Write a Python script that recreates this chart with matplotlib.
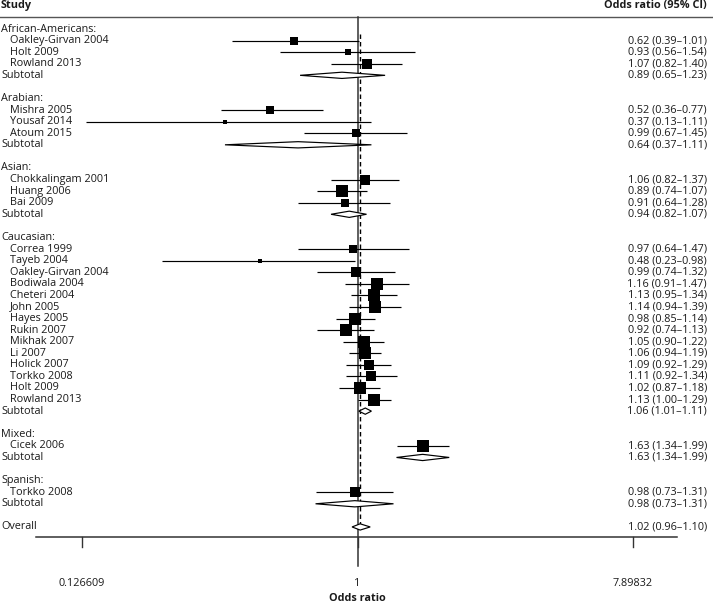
import numpy as np
import matplotlib
matplotlib.use("Agg")
import matplotlib.pyplot as plt
from matplotlib.patches import Polygon
import matplotlib.transforms as mtransforms

plt.rcParams['font.family'] = ['Open Sans', 'DejaVu Sans']

# ---------------- data ----------------
group_names = ["African-Americans", "Arabian", "Asian", "Caucasian", "Mixed", "Spanish"]

study_names = [
    "Oakley-Girvan 2004", "Holt 2009", "Rowland 2013",
    "Mishra 2005", "Yousaf 2014", "Atoum 2015",
    "Chokkalingam 2001", "Huang 2006", "Bai 2009",
    "Correa 1999", "Tayeb 2004", "Oakley-Girvan 2004", "Bodiwala 2004", "Cheteri 2004",
    "John 2005", "Hayes 2005", "Rukin 2007", "Mikhak 2007", "Li 2007", "Holick 2007",
    "Torkko 2008", "Holt 2009", "Rowland 2013",
    "Cicek 2006",
    "Torkko 2008",
]
study_group = [0, 0, 0, 1, 1, 1, 2, 2, 2] + [3] * 14 + [4, 5]
study_or = [0.62, 0.93, 1.07, 0.52, 0.37, 0.99, 1.06, 0.89, 0.91,
            0.97, 0.48, 0.99, 1.16, 1.13, 1.14, 0.98, 0.92, 1.05, 1.06, 1.09, 1.11, 1.02, 1.13,
            1.63, 0.98]
study_lo = [0.39, 0.56, 0.82, 0.36, 0.13, 0.67, 0.82, 0.74, 0.64,
            0.64, 0.23, 0.74, 0.91, 0.95, 0.94, 0.85, 0.74, 0.90, 0.94, 0.92, 0.92, 0.87, 1.00,
            1.34, 0.73]
study_hi = [1.01, 1.54, 1.40, 0.77, 1.11, 1.45, 1.37, 1.07, 1.28,
            1.47, 0.98, 1.32, 1.47, 1.34, 1.39, 1.14, 1.13, 1.22, 1.19, 1.29, 1.34, 1.18, 1.29,
            1.99, 1.31]
# relative study weights
study_weight = [4.1, 3.0, 6.8, 5.3, 1.3, 6.0, 6.8, 10.1, 5.3,
                5.3, 1.3, 6.8, 10.1, 10.1, 10.1, 12.0, 10.1, 12.0, 10.1, 8.3, 8.3, 10.1, 12.0,
                10.1, 6.8]

sub_or = [0.89, 0.64, 0.94, 1.06, 1.63, 0.98]
sub_lo = [0.65, 0.37, 0.82, 1.01, 1.34, 0.73]
sub_hi = [1.23, 1.11, 1.07, 1.11, 1.99, 1.31]

overall_or, overall_lo, overall_hi = 1.02, 0.96, 1.10

tick_values = [0.126609, 1.0, 7.89832]
tick_labels = ["0.126609", "1", "7.89832"]

# ---------------- layout ----------------
W, H = 713, 604
fig = plt.figure(figsize=(W / 100, H / 100), dpi=100)
ax = fig.add_axes([0, 0, 1, 1])
ax.set_xscale('log')
px_center, px_per_ln = 357.5, 133.3
row0_px, row_px = 29.0, 11.58
ax.set_xlim(np.exp(-px_center / px_per_ln), np.exp((W - px_center) / px_per_ln))
ax.set_ylim((H - row0_px) / row_px, -row0_px / row_px)
ax.axis('off')

def px2row(py):
    return (py - row0_px) / row_px

def fx(px):
    return px / W

trans = mtransforms.blended_transform_factory(fig.transFigure, ax.transData)

FS = 7.8
TXT = '#1a1a1a'

# header
ax.text(fx(1), px2row(5.5), "Study", transform=trans, fontsize=FS, fontweight='bold',
        ha='left', va='center', color=TXT)
ax.text(fx(707), px2row(5.5), "Odds ratio (95% CI)", transform=trans, fontsize=FS,
        fontweight='bold', ha='right', va='center', color=TXT)
ax.plot([0, 1], [px2row(17), px2row(17)], transform=trans, color='#555555', lw=1.0,
        clip_on=False)

def fmt(o, l, h):
    return f"{o:.2f} ({l:.2f}\u2013{h:.2f})"

row = 0
ms_scale = 2.55  # marker size per sqrt(weight)
for g, gname in enumerate(group_names):
    ax.text(fx(1), row, gname + ":", transform=trans, fontsize=FS, ha='left', va='center',
            color=TXT)
    row += 1
    for i in [k for k, sg in enumerate(study_group) if sg == g]:
        ax.text(fx(10), row, study_names[i], transform=trans, fontsize=FS, ha='left',
                va='center', color=TXT)
        ax.plot([study_lo[i], study_hi[i]], [row, row], color='black', lw=0.85,
                solid_capstyle='butt', zorder=3)
        ax.plot([study_or[i]], [row], marker='s', color='black',
                markersize=ms_scale * np.sqrt(study_weight[i]), mew=0, zorder=4)
        ax.text(fx(707), row, fmt(study_or[i], study_lo[i], study_hi[i]), transform=trans,
                fontsize=FS, ha='right', va='center', color=TXT)
        row += 1
    ax.text(fx(1), row, "Subtotal", transform=trans, fontsize=FS, ha='left', va='center',
            color=TXT)
    hh = 0.27
    ax.add_patch(Polygon([[sub_lo[g], row], [sub_or[g], row - hh], [sub_hi[g], row],
                          [sub_or[g], row + hh]], closed=True, facecolor='white',
                         edgecolor='black', lw=0.85, zorder=4))
    ax.text(fx(707), row, fmt(sub_or[g], sub_lo[g], sub_hi[g]), transform=trans,
            fontsize=FS, ha='right', va='center', color=TXT)
    row += 2

# overall
ax.text(fx(1), row, "Overall", transform=trans, fontsize=FS, ha='left', va='center',
        color=TXT)
hh = 0.27
ax.add_patch(Polygon([[overall_lo, row], [overall_or, row - hh], [overall_hi, row],
                      [overall_or, row + hh]], closed=True, facecolor='white',
                     edgecolor='black', lw=0.85, zorder=4))
ax.text(fx(707), row, fmt(overall_or, overall_lo, overall_hi), transform=trans,
        fontsize=FS, ha='right', va='center', color=TXT)
overall_row = row

# reference lines
ax.plot([1, 1], [px2row(17), px2row(566)], color='#333333', lw=1.1, zorder=2)
ax.plot([overall_or, overall_or], [0.4, overall_row], color='black', lw=1.0,
        linestyle=(0, (3.2, 2.2)), zorder=2)

# x axis
axis_y = px2row(537)
ax.plot([np.exp((36 - px_center) / px_per_ln), np.exp((677 - px_center) / px_per_ln)],
        [axis_y, axis_y], color='#333333', lw=1.1, zorder=2)
for v, lab in zip(tick_values, tick_labels):
    ax.plot([v, v], [axis_y, px2row(547)], color='#333333', lw=1.0)
    ax.text(v, px2row(583), lab, fontsize=FS, ha='center', va='center', color=TXT)
ax.text(1.0, px2row(598), "Odds ratio", fontsize=FS, fontweight='bold', ha='center',
        va='center', color=TXT)

fig.savefig("out.png", dpi=100)
